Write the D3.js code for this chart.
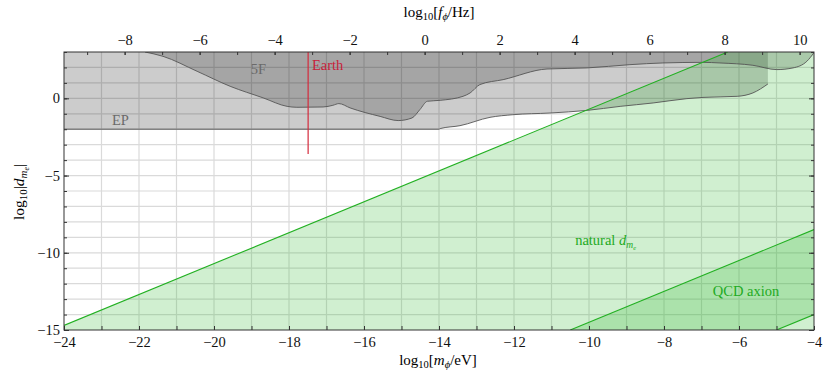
<!DOCTYPE html>
<html>
<head>
<meta charset="utf-8">
<script src="https://cdn.jsdelivr.net/npm/d3@7/dist/d3.min.js"></script>
<style>
    body { margin: 0; background: #fff; }
    svg text { font-family: "Liberation Serif", "Times New Roman", serif; }
</style>
</head>
<body>
<svg width="825" height="379"></svg>
<script>
// axis ticks
var massTicks = [-24, -22, -20, -18, -16, -14, -12, -10, -8, -6, -4];
var freqTicks = [-8, -6, -4, -2, 0, 2, 4, 6, 8, 10];
var couplingTicks = [-15, -10, -5, 0];
var freqOffset = 14.383; // log10(1 / (2 pi hbar)) in Hz/eV

// fifth force (5F) bound, region above the curve is excluded
var fifthForce = [
    [-21.84, 3.0], [-21.36, 2.72], [-20.45, 1.75], [-19.57, 0.78],
    [-18.69, 0.03], [-18.05, -0.52], [-17.79, -0.58], [-17.09, -0.56],
    [-16.83, -0.45], [-16.67, -0.34], [-16.37, -0.62], [-15.57, -1.17],
    [-15.09, -1.44], [-14.72, -1.27], [-14.51, -0.73], [-14.31, -0.19],
    [-13.97, -0.13], [-13.36, 0.13], [-13.17, 0.35], [-12.91, 0.89],
    [-12.29, 1.21], [-11.12, 1.90], [-10.05, 1.97], [-8.91, 2.18],
    [-8.03, 2.29], [-6.96, 2.33], [-6.51, 2.29], [-5.63, 2.14],
    [-4.99, 1.86], [-4.56, 1.97], [-4.19, 2.40], [-4.0, 2.96]
];

// equivalence principle (EP) bound
var equivPrinciple = [
    [-24, -2], [-14.0, -2], [-13.97, -1.96], [-13.44, -1.77],
    [-12.64, -1.23], [-12.03, -1.06], [-11.04, -0.95], [-10.05, -0.78],
    [-9.17, -0.52], [-8.29, -0.30], [-7.39, -0.02], [-6.96, 0.06],
    [-6.05, 0.13], [-5.63, 0.35], [-5.23, 0.93]
];

var naturalLine = [[-24, -14.7], [-6.3, 3]];
var qcdUpper = [[-10.5, -15], [-4, -8.5]];
var qcdLower = [[-5, -15], [-4, -14]];
var earthLine = [[-17.49, 3], [-17.49, -3.6]];

window.onload = main;

function main() {
    var margin = { top: 52, right: 11, bottom: 49, left: 64 };
    var width = 825 - margin.left - margin.right,
        height = 379 - margin.top - margin.bottom;

    var svg = d3.select("svg");
    var g = svg.append("g")
        .attr("transform", "translate(" + margin.left + "," + margin.top + ")");

    var x = d3.scaleLinear().domain([-24, -4]).range([0, width]);
    var y = d3.scaleLinear().domain([-15, 3]).range([height, 0]);
    var xf = d3.scaleLinear()
        .domain([-24 + freqOffset, -4 + freqOffset])
        .range([0, width]);

    g.append("clipPath").attr("id", "plot-clip")
        .append("rect").attr("width", width).attr("height", height);

    // grid
    var grid = g.append("g").attr("class", "grid");
    grid.selectAll("line.vx")
        .data(d3.range(-23, -4))
        .enter().append("line")
        .attr("x1", d => x(d)).attr("x2", d => x(d))
        .attr("y1", 0).attr("y2", height)
        .attr("stroke", "#dadada").attr("stroke-width", 1.2);
    grid.selectAll("line.hy")
        .data(d3.range(-14, 3))
        .enter().append("line")
        .attr("y1", d => y(d)).attr("y2", d => y(d))
        .attr("x1", 0).attr("x2", width)
        .attr("stroke", "#dadada").attr("stroke-width", 1.2);

    var plot = g.append("g").attr("clip-path", "url(#plot-clip)");

    var area = d3.area()
        .x(d => x(d[0]))
        .y0(y(3))
        .y1(d => y(d[1]))
        .curve(d3.curveMonotoneX);
    var line = d3.line()
        .x(d => x(d[0]))
        .y(d => y(d[1]))
        .curve(d3.curveMonotoneX);

    // EP and 5F regions
    plot.append("path")
        .datum(equivPrinciple)
        .attr("d", area)
        .attr("fill", "#000").attr("fill-opacity", 0.2);
    plot.append("path")
        .datum(fifthForce)
        .attr("d", area)
        .attr("fill", "#000").attr("fill-opacity", 0.19);

    // natural region (below line)
    var poly = d3.line().x(d => x(d[0])).y(d => y(d[1]));
    var naturalPoly = [[-24, -15]].concat(naturalLine, [[-4, 3], [-4, -15]]);
    plot.append("path")
        .datum(naturalPoly)
        .attr("d", poly)
        .attr("fill", "rgb(40,180,40)").attr("fill-opacity", 0.22);

    var qcdPoly = qcdUpper.concat(qcdLower.slice().reverse());
    plot.append("path")
        .datum(qcdPoly)
        .attr("d", poly)
        .attr("fill", "rgb(40,180,40)").attr("fill-opacity", 0.22);

    // boundary lines
    [fifthForce, equivPrinciple].forEach(function (data) {
        plot.append("path")
            .datum(data)
            .attr("d", line)
            .attr("fill", "none")
            .attr("stroke", "#555").attr("stroke-width", 0.9);
    });
    [naturalLine, qcdUpper, qcdLower].forEach(function (data) {
        plot.append("path")
            .datum(data)
            .attr("d", poly)
            .attr("fill", "none")
            .attr("stroke", "#22b022").attr("stroke-width", 1.1);
    });
    plot.append("path")
        .datum(earthLine)
        .attr("d", poly)
        .attr("stroke", "#d42a3c").attr("stroke-width", 1.2);

    // region labels
    var labels = g.append("g").attr("font-size", "14.5px");
    labels.append("text")
        .attr("x", x(-19.02)).attr("y", y(1.6))
        .attr("fill", "#6a6a6a").text("5F");
    labels.append("text")
        .attr("x", x(-22.72)).attr("y", y(-1.7))
        .attr("fill", "#6a6a6a").text("EP");
    labels.append("text")
        .attr("x", x(-17.39)).attr("y", y(1.85))
        .attr("fill", "#c8203a").text("Earth");

    var nat = labels.append("text")
        .attr("x", x(-10.37)).attr("y", y(-9.52))
        .attr("fill", "#22aa22");
    nat.append("tspan").text("natural ");
    nat.append("tspan").attr("font-style", "italic").text("d");
    nat.append("tspan").attr("font-style", "italic").attr("font-size", "9.5px")
        .attr("dy", 3).text("m");
    nat.append("tspan").attr("font-style", "italic").attr("font-size", "6.5px")
        .attr("dy", 1.5).text("e");

    labels.append("text")
        .attr("x", x(-6.70)).attr("y", y(-12.78))
        .attr("fill", "#22aa22").text("QCD axion");

    // frame
    g.append("rect")
        .attr("width", width).attr("height", height)
        .attr("fill", "none").attr("stroke", "#333").attr("stroke-width", 1);

    // axes
    var fmt = d => d3.format("")(d).replace("-", "\u2212");

    g.append("g").attr("class", "axis")
        .attr("transform", "translate(0," + height + ")")
        .call(d3.axisBottom(x).tickValues(d3.range(-24, -3)).tickSize(-4).tickFormat(""));
    g.append("g").attr("class", "axis")
        .attr("transform", "translate(0," + height + ")")
        .call(d3.axisBottom(x).tickValues(massTicks).tickSize(-4).tickPadding(7).tickFormat(fmt));

    g.append("g").attr("class", "axis")
        .call(d3.axisTop(xf).tickValues(d3.range(-9, 11)).tickSize(-3).tickFormat(""));
    g.append("g").attr("class", "axis")
        .call(d3.axisTop(xf).tickValues(freqTicks).tickSize(-3).tickPadding(7).tickFormat(fmt));

    g.append("g").attr("class", "axis")
        .call(d3.axisLeft(y).tickValues(d3.range(-15, 4)).tickSize(-3).tickFormat(""));
    g.append("g").attr("class", "axis")
        .call(d3.axisLeft(y).tickValues(couplingTicks).tickSize(-5).tickPadding(4).tickFormat(fmt));

    g.append("g").attr("class", "axis")
        .attr("transform", "translate(" + width + ",0)")
        .call(d3.axisRight(y).tickValues(d3.range(-15, 4)).tickSize(-3).tickFormat(""));
    g.append("g").attr("class", "axis")
        .attr("transform", "translate(" + width + ",0)")
        .call(d3.axisRight(y).tickValues(couplingTicks).tickSize(-5).tickFormat(""));

    g.selectAll(".axis").attr("font-family", null);
    g.selectAll(".domain").remove();
    g.selectAll(".tick line").attr("stroke", "#333");
    g.selectAll(".tick text")
        .style("font-family", "'Liberation Serif', 'Times New Roman', serif")
        .style("font-size", "14.5px").attr("fill", "#111");

    // axis titles
    var xt = svg.append("text")
        .attr("x", 438).attr("y", 365)
        .attr("text-anchor", "middle").attr("font-size", "15px");
    xt.append("tspan").text("log");
    xt.append("tspan").attr("font-size", "10.5px").attr("dy", 3).text("10");
    xt.append("tspan").attr("dy", -3).text("[");
    xt.append("tspan").attr("font-style", "italic").text("m");
    xt.append("tspan").attr("font-style", "italic").attr("font-size", "10.5px").attr("dy", 3).text("\u03d5");
    xt.append("tspan").attr("dy", -3).text("/eV]");

    var tt = svg.append("text")
        .attr("x", 439).attr("y", 17)
        .attr("text-anchor", "middle").attr("font-size", "15px");
    tt.append("tspan").text("log");
    tt.append("tspan").attr("font-size", "10.5px").attr("dy", 3).text("10");
    tt.append("tspan").attr("dy", -3).text("[");
    tt.append("tspan").attr("font-style", "italic").text("f");
    tt.append("tspan").attr("font-style", "italic").attr("font-size", "10.5px").attr("dy", 3).text("\u03d5");
    tt.append("tspan").attr("dy", -3).text("/Hz]");

    var yt = svg.append("text")
        .attr("transform", "translate(24,192) rotate(-90)")
        .attr("text-anchor", "middle").attr("font-size", "15.5px");
    yt.append("tspan").text("log");
    yt.append("tspan").attr("font-size", "11px").attr("dy", 3).text("10");
    yt.append("tspan").attr("dy", -3).text("|");
    yt.append("tspan").attr("font-style", "italic").text("d");
    yt.append("tspan").attr("font-style", "italic").attr("font-size", "11px").attr("dy", 3).text("m");
    yt.append("tspan").attr("font-style", "italic").attr("font-size", "7.5px").attr("dy", 2).text("e");
    yt.append("tspan").attr("dy", -5).text("|");
}
</script>
</body>
</html>
